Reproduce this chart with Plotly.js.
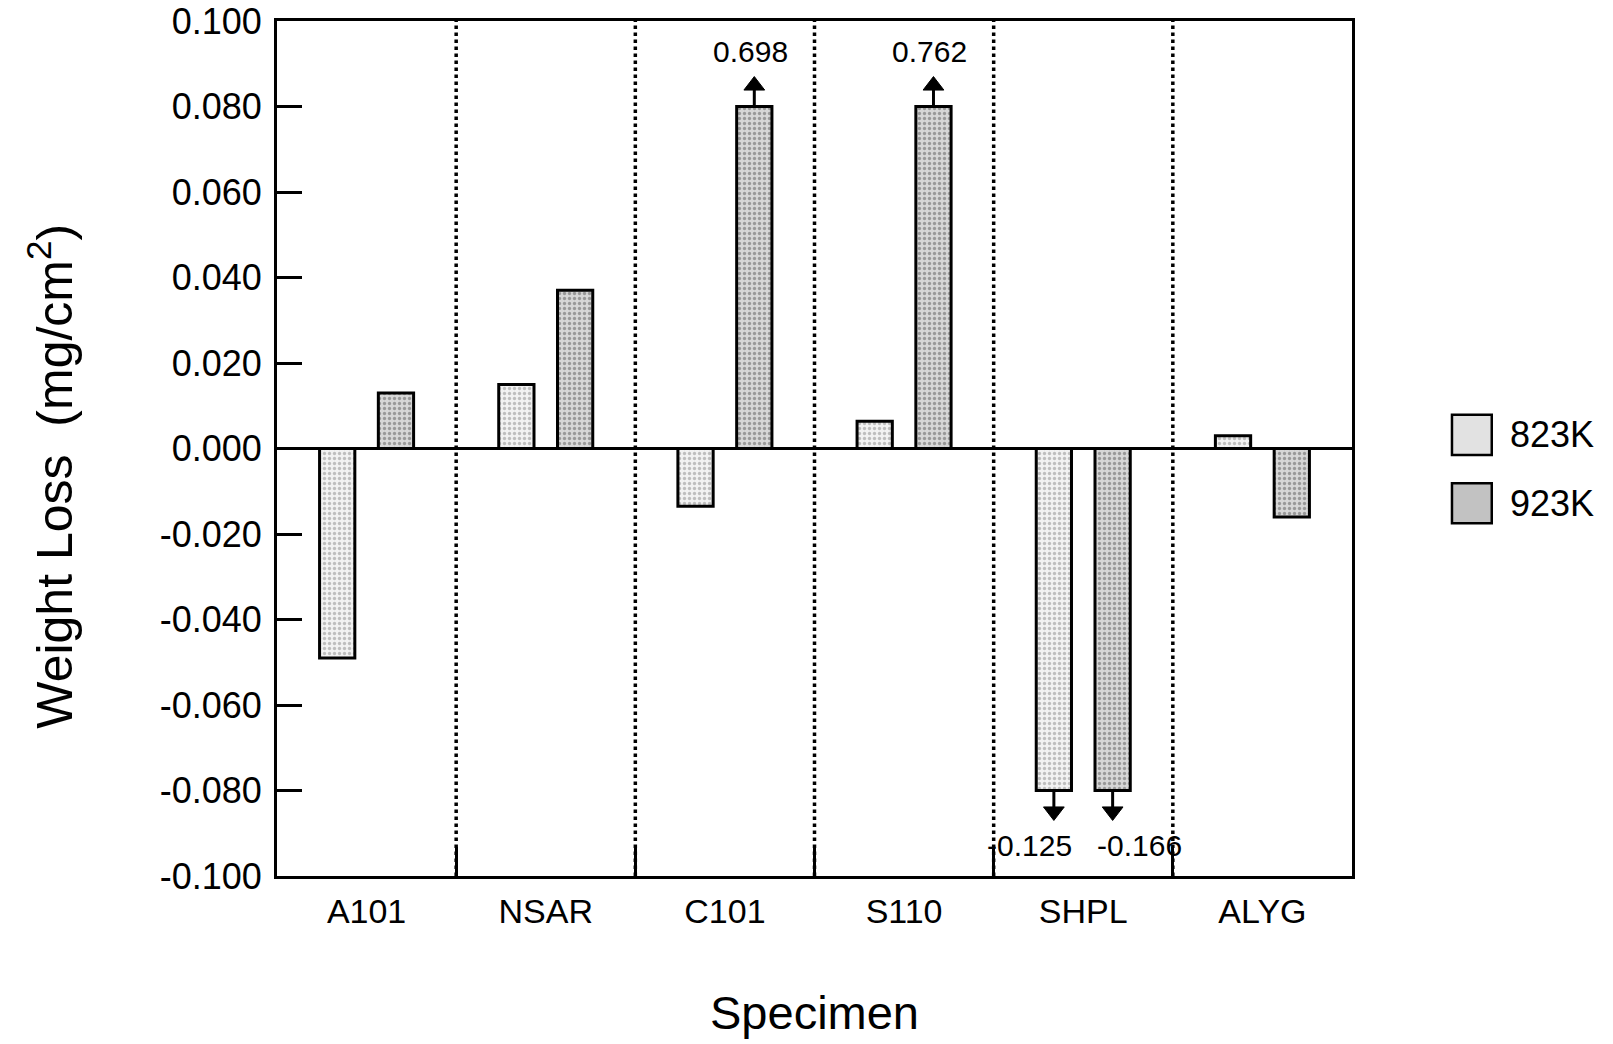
<!DOCTYPE html>
<html>
<head>
<meta charset="utf-8">
<script src="https://cdn.plot.ly/plotly-3.0.1.min.js"></script>
<style>html,body{margin:0;padding:0;background:#fff;}#chart{width:1613px;height:1044px;}</style>
</head>
<body>
<div id="chart"></div>
<script>
// ---- data ----
const specimens = ['A101', 'NSAR', 'C101', 'S110', 'SHPL', 'ALYG'];
const seriesNames = ['823K', '923K'];
const loss823K = [-0.049, 0.015, -0.0135, 0.0064, -0.125, 0.003];
const loss923K = [0.013, 0.037, 0.698, 0.762, -0.166, -0.016];
const breakLevel = 0.08;   // bars beyond this are drawn broken with an arrow and the true value
const yTickVals = [-0.1, -0.08, -0.06, -0.04, -0.02, 0, 0.02, 0.04, 0.06, 0.08, 0.1];
const yTickText = ['-0.100', '-0.080', '-0.060', '-0.040', '-0.020', '0.000', '0.020', '0.040', '0.060', '0.080', '0.100'];

// ---- styling ----
const FONT = '"Liberation Sans", Arial, Helvetica, sans-serif';
const fills = [
  {bg: '#f2f2f2', fg: '#8a8a8a', legend: '#e2e2e2'},
  {bg: '#d6d6d6', fg: '#5a5a5a', legend: '#c2c2c2'}
];
const bargap = 0.344, bargroupgap = 0.4;
const slot = (1 - bargap) / 2;               // width given to each series inside a group
const offsets = [-slot / 2, slot / 2];
const arrowHeadLevel = 0.0849;               // where the arrow head sits beyond the break
const labelLevel = 0.0928;                   // where the true value is written

const clamp = v => Math.max(-breakLevel, Math.min(breakLevel, v));
const allSeries = [loss823K, loss923K];

const traces = allSeries.map((vals, i) => ({
  type: 'bar',
  name: seriesNames[i],
  x: specimens,
  y: vals.map(clamp),
  customdata: vals,
  hovertemplate: '%{x} ' + seriesNames[i] + ': %{customdata}<extra></extra>',
  marker: {
    color: fills[i].bg,
    line: {color: '#000', width: 3},
    pattern: {shape: '.', fgcolor: fills[i].fg, bgcolor: fills[i].bg, size: 5, solidity: 0.35, fillmode: 'overlay'}
  },
  showlegend: false
}));

const annotations = [];
allSeries.forEach((vals, i) => {
  vals.forEach((v, j) => {
    if (Math.abs(v) > breakLevel) {
      const s = Math.sign(v);
      const xpos = j + offsets[i];
      // arrow: a short line from the break with a triangle head, on an overlaid numeric axis
      traces.push({
        type: 'scatter', xaxis: 'x2', yaxis: 'y',
        x: [xpos, xpos], y: [s * breakLevel, s * arrowHeadLevel],
        mode: 'lines+markers',
        line: {color: '#000', width: 3},
        marker: {color: '#000', opacity: 1, size: [0, 18], line: {color: '#000', width: 1},
                 symbol: ['circle', s > 0 ? 'triangle-up' : 'triangle-down']},
        hoverinfo: 'skip', showlegend: false, cliponaxis: false
      });
      annotations.push({
        x: xpos, y: s * labelLevel, xref: 'x2', yref: 'y',
        text: v.toFixed(3), showarrow: false,
        xshift: v < 0 ? (i === 0 ? -24 : 27) : -4,
        font: {family: FONT, size: 30, color: '#000'}
      });
    }
  });
});

// custom legend (large swatches as in the reference)
const legendShapes = [];
const legendY = [0.516, 0.436];
seriesNames.forEach((nm, i) => {
  legendShapes.push({
    type: 'rect', xref: 'paper', yref: 'paper',
    x0: 1.093, x1: 1.130, y0: legendY[i] - 0.0235, y1: legendY[i] + 0.0235,
    fillcolor: fills[i].legend, line: {color: '#000', width: 2.5}
  });
  annotations.push({
    x: 1.145, y: legendY[i], xref: 'paper', yref: 'paper', xanchor: 'left', yanchor: 'middle',
    text: nm, showarrow: false, font: {family: FONT, size: 36, color: '#000'}
  });
});

// dotted separators between specimen groups
const sepShapes = specimens.slice(1).map((_, k) => ({
  type: 'line', xref: 'x2', yref: 'y', x0: k + 0.5, x1: k + 0.5, y0: -0.1, y1: 0.1,
  line: {color: '#000', width: 3.5, dash: 'dot'}, layer: 'below'
}));

const layout = {
  width: 1613, height: 1044,
  margin: {l: 277, r: 261, t: 21, b: 168, pad: 0},
  paper_bgcolor: '#fff', plot_bgcolor: '#fff',
  font: {family: FONT, color: '#000'},
  barmode: 'group', bargap: bargap, bargroupgap: bargroupgap,
  showlegend: false,
  xaxis: {
    type: 'category',
    range: [-0.5, specimens.length - 0.5],
    showline: true, linecolor: '#000', linewidth: 3, mirror: true,
    ticks: 'inside', tickson: 'boundaries', ticklen: 29, tickwidth: 3, tickcolor: '#000',
    showgrid: false, zeroline: false,
    tickfont: {family: FONT, size: 34, color: '#000'},
    ticklabelstandoff: 3,
    title: {text: 'Specimen', font: {family: FONT, size: 47, color: '#000'}, standoff: 68}
  },
  xaxis2: {
    overlaying: 'x', range: [-0.5, specimens.length - 0.5], visible: false, fixedrange: true
  },
  yaxis: {
    range: [-0.1, 0.1],
    tickvals: yTickVals, ticktext: yTickText,
    showline: true, linecolor: '#000', linewidth: 3, mirror: true,
    ticks: 'inside', ticklen: 25, tickwidth: 2.5, tickcolor: '#000',
    showgrid: false,
    zeroline: true, zerolinecolor: '#000', zerolinewidth: 2.5,
    tickfont: {family: FONT, size: 36, color: '#000'},
    ticklabelstandoff: 5,
    title: {text: 'Weight Loss  (mg/cm<sup>2</sup>)&nbsp;&nbsp;&nbsp;&nbsp;', font: {family: FONT, size: 50, color: '#000'}, standoff: 72}
  },
  shapes: sepShapes.concat(legendShapes),
  annotations: annotations
};

Plotly.newPlot('chart', traces, layout, {displayModeBar: false, responsive: false});
</script>
</body>
</html>
